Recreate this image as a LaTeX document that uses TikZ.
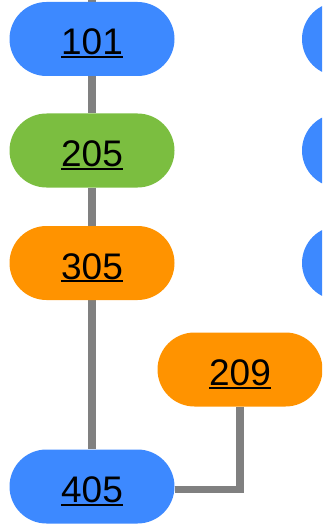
\documentclass[tikz,border=0pt]{standalone}
\usepackage{fontspec}
\setmainfont{Liberation Sans}
\usepackage{xcolor}
\usetikzlibrary{backgrounds}

\definecolor{pillblue}{RGB}{61,137,255}
\definecolor{pillgreen}{RGB}{123,190,64}
\definecolor{pillorange}{RGB}{255,147,0}
\definecolor{linkgray}{RGB}{128,128,128}

\newcommand{\ulnum}[1]{\setbox0\hbox{#1}\rlap{\rule[-3pt]{\wd0}{1.6pt}}\box0}

\tikzset{
  pill/.style={rectangle, rounded corners=37pt, minimum width=165pt, minimum height=74pt,
    inner sep=0pt, text height=32pt, text depth=0pt,
    font=\fontsize{37}{40}\selectfont},
  link/.style={draw=linkgray, line width=7.5pt}
}

\begin{document}
\begin{tikzpicture}[x=1pt, y=-1pt]
  \useasboundingbox (0,0) rectangle (322,524);
  \clip (0,0) rectangle (322,524);

  % left column
  \node[pill, fill=pillblue]   (n101) at (92,39)    {\ulnum{101}};
  \node[pill, fill=pillgreen]  (n205) at (92,150.5) {\ulnum{205}};
  \node[pill, fill=pillorange] (n305) at (92,263)   {\ulnum{305}};
  \node[pill, fill=pillorange] (n209) at (240,369.5) {\ulnum{209}};
  \node[pill, fill=pillblue]   (n405) at (92,486.5) {\ulnum{405}};

  % right column, cut off by the edge
  \node[pill, fill=pillblue] (r1) at (384.5,39) {};
  \node[pill, fill=pillblue] (r2) at (384.5,150.5) {};
  \node[pill, fill=pillblue] (r3) at (384.5,263) {};

  \coordinate (top) at (92,0);

  \begin{pgfonlayer}{background}
    \draw[link] (top) -- (n101);
    \draw[link] (n101) -- (n205);
    \draw[link] (n205) -- (n305);
    \draw[link] (n305) -- (n405);
    \draw[link] (n209.south) |- ([yshift=-3pt]n405.east);
  \end{pgfonlayer}
\end{tikzpicture}
\end{document}
